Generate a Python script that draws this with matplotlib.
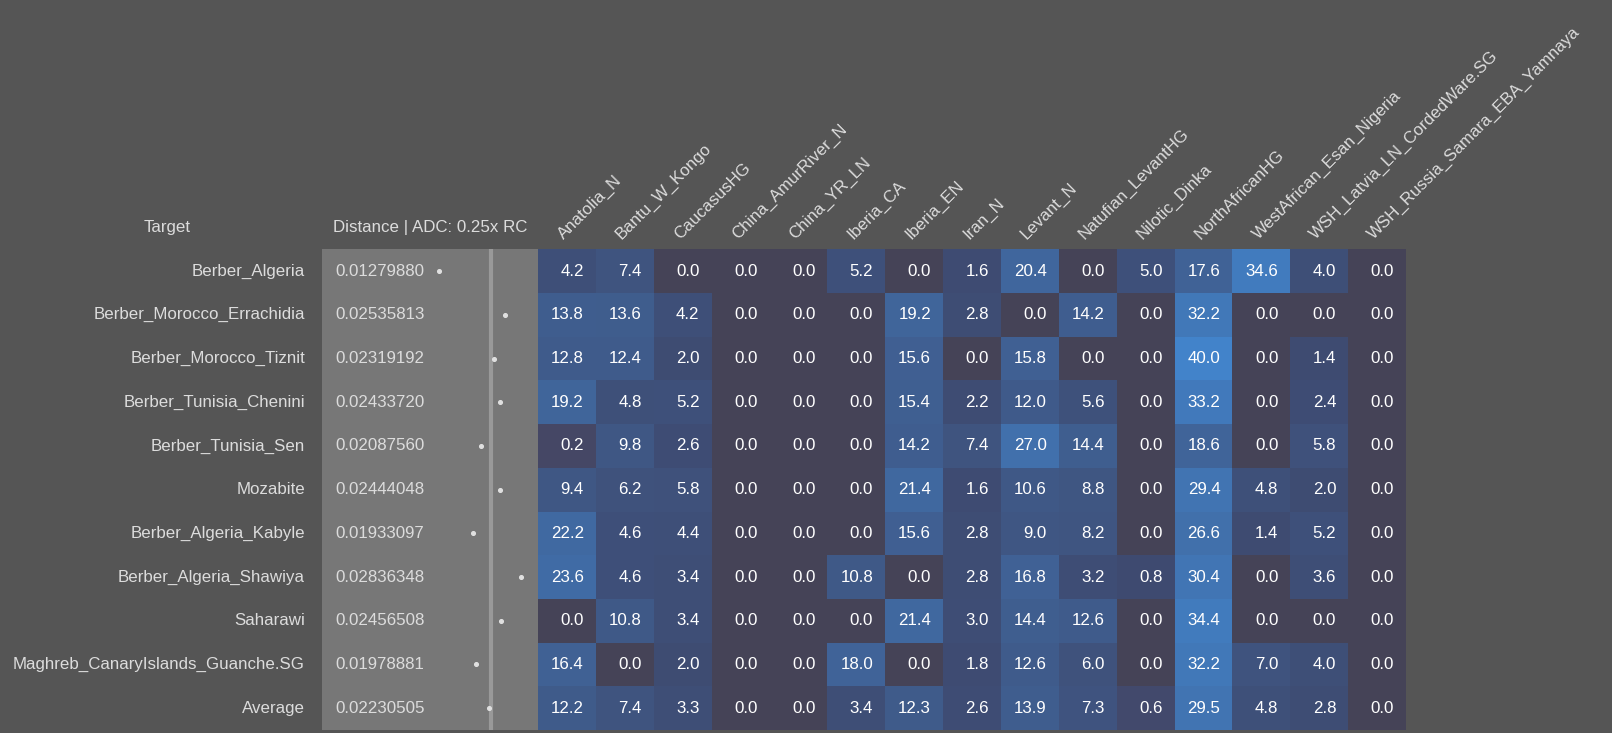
import matplotlib.pyplot as plt
import numpy as np
from matplotlib.colors import LinearSegmentedColormap
from matplotlib import transforms

plt.rcParams['font.family'] = ['Liberation Sans', 'DejaVu Sans']

targets = ["Berber_Algeria", "Berber_Morocco_Errachidia", "Berber_Morocco_Tiznit",
           "Berber_Tunisia_Chenini", "Berber_Tunisia_Sen", "Mozabite",
           "Berber_Algeria_Kabyle", "Berber_Algeria_Shawiya", "Saharawi",
           "Maghreb_CanaryIslands_Guanche.SG", "Average"]
distances = [0.01279880, 0.02535813, 0.02319192, 0.02433720, 0.02087560, 0.02444048,
             0.01933097, 0.02836348, 0.02456508, 0.01978881, 0.02230505]
sources = ["Anatolia_N", "Bantu_W_Kongo", "CaucasusHG", "China_AmurRiver_N", "China_YR_LN",
           "Iberia_CA", "Iberia_EN", "Iran_N", "Levant_N", "Natufian_LevantHG",
           "Nilotic_Dinka", "NorthAfricanHG", "WestAfrican_Esan_Nigeria",
           "WSH_Latvia_LN_CordedWare.SG", "WSH_Russia_Samara_EBA_Yamnaya"]
values = [
    [4.2, 7.4, 0.0, 0.0, 0.0, 5.2, 0.0, 1.6, 20.4, 0.0, 5.0, 17.6, 34.6, 4.0, 0.0],
    [13.8, 13.6, 4.2, 0.0, 0.0, 0.0, 19.2, 2.8, 0.0, 14.2, 0.0, 32.2, 0.0, 0.0, 0.0],
    [12.8, 12.4, 2.0, 0.0, 0.0, 0.0, 15.6, 0.0, 15.8, 0.0, 0.0, 40.0, 0.0, 1.4, 0.0],
    [19.2, 4.8, 5.2, 0.0, 0.0, 0.0, 15.4, 2.2, 12.0, 5.6, 0.0, 33.2, 0.0, 2.4, 0.0],
    [0.2, 9.8, 2.6, 0.0, 0.0, 0.0, 14.2, 7.4, 27.0, 14.4, 0.0, 18.6, 0.0, 5.8, 0.0],
    [9.4, 6.2, 5.8, 0.0, 0.0, 0.0, 21.4, 1.6, 10.6, 8.8, 0.0, 29.4, 4.8, 2.0, 0.0],
    [22.2, 4.6, 4.4, 0.0, 0.0, 0.0, 15.6, 2.8, 9.0, 8.2, 0.0, 26.6, 1.4, 5.2, 0.0],
    [23.6, 4.6, 3.4, 0.0, 0.0, 10.8, 0.0, 2.8, 16.8, 3.2, 0.8, 30.4, 0.0, 3.6, 0.0],
    [0.0, 10.8, 3.4, 0.0, 0.0, 0.0, 21.4, 3.0, 14.4, 12.6, 0.0, 34.4, 0.0, 0.0, 0.0],
    [16.4, 0.0, 2.0, 0.0, 0.0, 18.0, 0.0, 1.8, 12.6, 6.0, 0.0, 32.2, 7.0, 4.0, 0.0],
    [12.2, 7.4, 3.3, 0.0, 0.0, 3.4, 12.3, 2.6, 13.9, 7.3, 0.6, 29.5, 4.8, 2.8, 0.0],
]
# reference line drawn in the distance column
ref_line = 0.0227

bg = '#555555'
txt = '#dcdcdc'
W, H = 1612, 733
fs = 12.2

cmap = LinearSegmentedColormap.from_list(
    'adm', [(0, '#454357'), (0.005, '#454869'), (0.02, '#3e4a70'), (1, '#4283ca')])

fig = plt.figure(figsize=(W / 100, H / 100), dpi=100, facecolor=bg)

top, bottom = 249.3, 730.0
nrows, ncols = len(targets), len(sources)

# heatmap
ax = fig.add_axes([538 / W, (H - bottom) / H, 868 / W, (bottom - top) / H])
data = np.array(values)
ax.pcolormesh(np.arange(ncols + 1), np.arange(nrows + 1), data, cmap=cmap, vmin=0, vmax=40)
ax.set_xlim(0, ncols)
ax.set_ylim(nrows, 0)
ax.axis('off')
colw = 868 / ncols
for i in range(nrows):
    for j in range(ncols):
        ax.text(j + 1 - 12 / colw, i + 0.5, f"{data[i, j]:.1f}", ha='right', va='center',
                color='white', fontsize=fs)

trans = transforms.blended_transform_factory(ax.transData, ax.transAxes)
label_y = (bottom - 240) / (bottom - top)
for j, s in enumerate(sources):
    ax.text(j + 0.5 - 3 / colw, label_y, s, transform=trans, rotation=45,
            rotation_mode='anchor', ha='left', va='baseline', color=txt, fontsize=fs)

# distance panel
axd = fig.add_axes([322 / W, (H - bottom) / H, 216 / W, (bottom - top) / H])
axd.set_facecolor('#777777')
axd.set_xlim(-0.009616, 0.031677)
axd.set_ylim(nrows, 0)
axd.set_xticks([])
axd.set_yticks([])
for sp in axd.spines.values():
    sp.set_visible(False)
axd.axvline(ref_line, color='#999999', lw=3)
axd.scatter(distances, np.arange(nrows) + 0.5, s=7, color='#e0e0e0', zorder=3)
dtrans = transforms.blended_transform_factory(axd.transAxes, axd.transData)
for i, (t, d) in enumerate(zip(targets, distances)):
    axd.text((335 - 322) / 216, i + 0.5, f"{d:.8f}", transform=dtrans,
             ha='left', va='center', color=txt, fontsize=fs)
    axd.text((305 - 322) / 216, i + 0.5, t, transform=dtrans,
             ha='right', va='center', color=txt, fontsize=fs)

fig.text(167 / W, 1 - 228 / H, "Target", ha='center', va='center', color=txt, fontsize=fs)
fig.text(333 / W, 1 - 228 / H, "Distance | ADC: 0.25x RC", ha='left', va='center',
         color=txt, fontsize=fs)

plt.savefig('out.png', dpi=100, facecolor=bg)
